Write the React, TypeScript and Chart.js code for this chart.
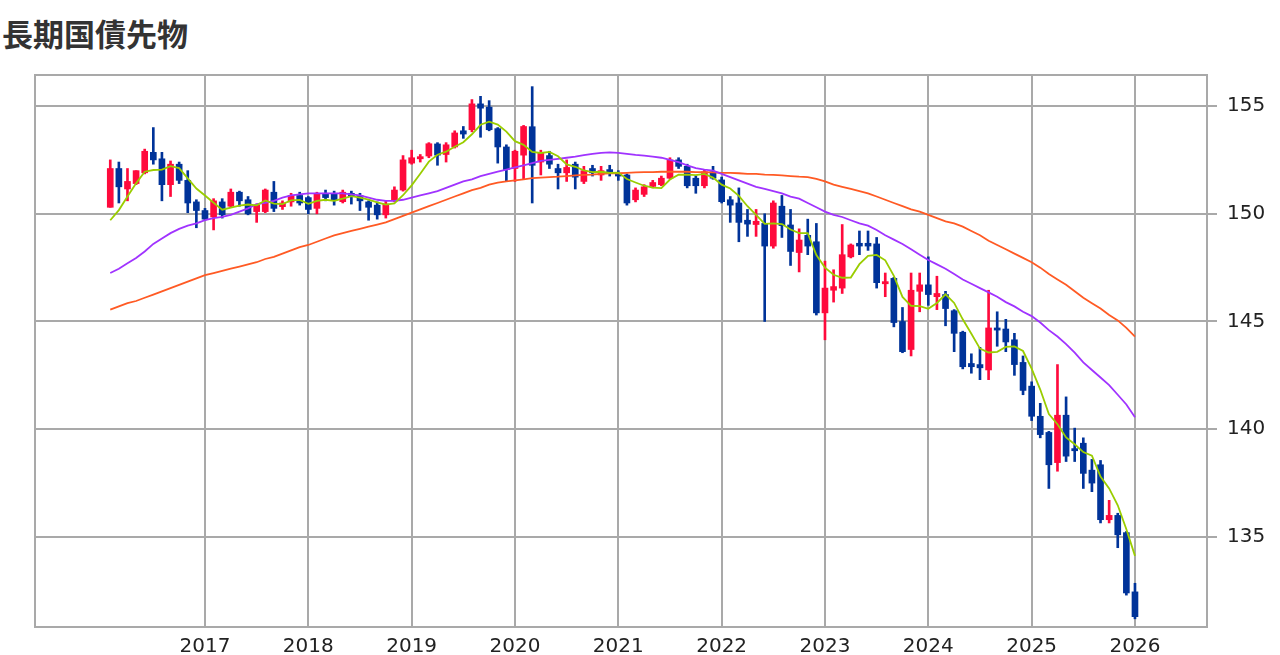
import React, { useEffect, useRef } from "react";
import { Chart, registerables } from "chart.js";

Chart.register(...registerables);

// Monthly candles, first month = Feb 2016, last = Jan 2026
const START_YEAR = 2016;
const START_MONTH = 2;

const opens = [
  150.3, 152.1, 151.15, 151.4, 151.9, 152.85, 152.55, 151.35, 152.3, 151.55, 150.55,
  150.15, 149.85, 150.55, 150.35, 151.0, 150.65, 150.1, 150.1, 151.0, 150.33, 150.55, 150.85,
  150.75, 150.25, 150.95, 150.92, 150.56, 150.95, 150.85, 150.55, 150.4, 149.95, 150.65, 151.1,
  152.35, 152.55, 152.68, 153.24, 152.75, 153.1, 153.85, 153.9, 155.1, 154.95, 153.95, 153.1,
  152.1, 152.72, 154.04, 152.4, 152.7, 152.1, 151.9, 152.3, 151.5, 152.1, 151.8, 152.05,
  151.85, 151.8, 150.65, 150.9, 151.27, 151.35, 151.65, 152.5, 152.2, 151.65, 151.3, 151.95,
  151.57, 150.65, 150.5, 149.7, 149.5, 149.55, 148.5, 150.35, 149.48, 148.2, 149.0, 148.7,
  145.4, 146.45, 146.55, 148.0, 148.63, 148.63, 148.6, 146.75, 147.0, 145.0, 143.7, 146.4,
  146.7, 146.15, 146.25, 145.5, 144.5, 143.05, 143.0, 142.75, 144.7, 144.65, 144.15, 143.1,
  142.0, 140.6, 139.85, 138.45, 140.65, 139.1, 139.35, 138.1, 138.35, 135.8, 136.0, 135.2,
  132.45,
];

const highs = [
  152.5, 152.4, 152.1, 152.0, 153.0, 154.0, 152.85, 152.45, 152.4, 152.0, 150.65,
  150.25, 150.7, 150.7, 151.15, 151.05, 150.8, 150.45, 151.15, 151.5, 150.6, 150.95, 151.0,
  150.8, 151.0, 151.1, 151.05, 151.1, 151.05, 150.95, 150.6, 150.55, 150.6, 151.25, 152.7,
  152.95, 152.75, 153.3, 153.3, 153.3, 153.85, 154.05, 155.3, 155.45, 155.25, 154.0, 153.2,
  152.95, 154.1, 155.9, 152.95, 152.9, 152.3, 152.5, 152.4, 152.2, 152.25, 152.2, 152.25,
  152.0, 151.85, 151.2, 151.35, 151.55, 151.75, 152.6, 152.6, 152.3, 151.75, 152.05, 152.2,
  151.7, 150.8, 151.2, 150.2, 150.2, 150.0, 150.6, 150.85, 150.2, 149.3, 149.75, 149.55,
  147.8, 147.4, 149.5, 148.6, 149.2, 149.2, 148.9, 147.25, 147.05, 145.65, 147.25, 147.25,
  148.0, 147.1, 146.4, 145.55, 144.55, 143.5, 143.8, 146.45, 145.45, 145.1, 144.45, 143.4,
  142.2, 141.2, 139.9, 143.0, 141.5, 140.05, 139.6, 138.6, 138.55, 136.7, 136.1, 135.25,
  132.85,
];

const lows = [
  150.3, 150.5, 150.6, 151.35, 151.85, 152.3, 150.6, 150.8, 151.4, 150.05, 149.35,
  149.7, 149.25, 149.8, 150.3, 150.35, 149.95, 149.6, 150.05, 150.1, 150.2, 150.35, 150.4,
  150.0, 150.0, 150.6, 150.4, 150.5, 150.45, 150.15, 149.7, 149.75, 149.8, 150.55, 151.05,
  152.3, 152.4, 152.6, 152.25, 152.4, 153.05, 153.5, 153.8, 153.55, 153.85, 152.35, 151.5,
  151.5, 151.6, 150.5, 151.8, 152.1, 151.15, 151.5, 151.15, 151.4, 151.75, 151.55, 151.75,
  151.55, 150.4, 150.55, 150.8, 151.2, 151.3, 151.6, 152.1, 151.2, 150.95, 151.2, 151.6,
  150.5, 149.6, 148.7, 148.95, 148.95, 145.0, 148.4, 148.9, 147.6, 147.3, 148.1, 145.3,
  144.15, 145.9, 146.3, 147.95, 148.1, 148.3, 146.55, 146.15, 144.75, 143.55, 143.4, 145.45,
  145.75, 145.55, 144.8, 143.6, 142.8, 142.6, 142.3, 142.3, 143.85, 143.6, 142.5, 141.6,
  140.4, 139.6, 137.25, 138.05, 138.5, 138.5, 137.25, 137.1, 135.65, 135.65, 134.5, 132.3,
  131.2,
];

const closes = [
  152.1, 151.25, 151.5, 152.0, 152.9, 152.5, 151.35, 152.3, 151.55, 150.5, 150.15,
  149.75, 150.6, 149.95, 151.0, 150.6, 150.0, 150.4, 151.1, 150.25, 150.5, 150.85, 150.5,
  150.2, 150.95, 150.75, 150.62, 151.0, 150.8, 150.6, 150.3, 149.95, 150.45, 151.1, 152.5,
  152.6, 152.65, 153.25, 152.72, 153.2, 153.75, 153.7, 155.1, 154.9, 153.9, 153.1, 152.05,
  152.9, 154.05, 152.25, 152.85, 152.3, 151.9, 152.15, 151.7, 152.0, 151.9, 152.0, 151.9,
  151.75, 150.5, 151.1, 151.25, 151.45, 151.65, 152.5, 152.2, 151.3, 151.3, 151.95, 151.65,
  150.56, 150.4, 149.6, 149.52, 149.65, 148.5, 150.5, 149.45, 148.25, 148.78, 148.5, 145.4,
  146.55, 146.62, 148.1, 148.55, 148.5, 148.5, 146.8, 146.85, 144.95, 143.6, 146.45, 146.7,
  146.25, 146.3, 145.6, 144.45, 142.9, 142.9, 142.85, 144.7, 144.6, 144.05, 143.0, 141.8,
  140.6, 139.75, 138.35, 140.65, 138.75, 139.0, 137.95, 137.5, 135.8, 136.0, 135.1, 132.4,
  131.3,
];

// short moving average (yellow-green)
const maShort = [
  149.7, 150.17, 150.8, 151.41, 151.95, 152.03, 152.05, 152.21, 152.12, 151.64, 151.17,
  150.85, 150.51, 150.19, 150.29, 150.38, 150.43, 150.39, 150.62, 150.47, 150.45, 150.62, 150.64,
  150.46, 150.6, 150.65, 150.6, 150.7, 150.82, 150.75, 150.66, 150.53, 150.42, 150.48, 150.86,
  151.32, 151.86, 152.42, 152.74, 152.88, 153.11, 153.32, 153.69, 154.13, 154.27, 154.14, 153.81,
  153.37, 153.2, 152.87, 152.82, 152.87, 152.67, 152.29, 152.18, 152.01, 151.93, 151.95, 151.9,
  151.91, 151.61, 151.45, 151.3, 151.21, 151.19, 151.59, 151.81, 151.82, 151.79, 151.85, 151.68,
  151.35, 151.17, 150.83, 150.35, 149.95, 149.53, 149.55, 149.52, 149.27, 149.1, 149.1, 148.08,
  147.5, 147.17, 147.03, 147.04, 147.66, 148.05, 148.09, 147.84, 147.12, 146.14, 145.73, 145.71,
  145.59, 145.86, 146.26, 145.86, 145.1, 144.43, 143.74, 143.56, 143.59, 143.82, 143.84, 143.63,
  142.81, 141.84, 140.7, 140.23, 139.62, 139.3, 138.94, 138.77, 137.8, 137.25, 136.47, 135.36,
  134.12,
];

// medium moving average (purple)
const maMid = [
  147.25, 147.45, 147.7, 147.95, 148.25, 148.6, 148.85, 149.1, 149.3, 149.45, 149.55,
  149.7, 149.8, 149.85, 149.95, 150.1, 150.25, 150.45, 150.5, 150.6, 150.75, 150.85, 150.9,
  150.95, 150.95, 150.95, 150.95, 150.95, 150.9, 150.85, 150.75, 150.65, 150.6, 150.6, 150.65,
  150.75, 150.85, 150.95, 151.05, 151.2, 151.35, 151.5, 151.6, 151.75, 151.85, 151.95, 152.05,
  152.15, 152.25, 152.35, 152.45, 152.5, 152.55, 152.6, 152.65, 152.72, 152.78, 152.83, 152.85,
  152.83, 152.78, 152.73, 152.7, 152.65, 152.6, 152.5, 152.4, 152.25, 152.12, 152.05, 152.0,
  151.85, 151.7, 151.55, 151.4, 151.25, 151.15, 151.05, 150.95, 150.8, 150.7, 150.5, 150.3,
  150.1, 149.95, 149.85, 149.7, 149.55, 149.45, 149.25, 149.0, 148.8, 148.6, 148.35, 148.1,
  147.85, 147.65, 147.45, 147.2, 146.95, 146.75, 146.55, 146.35, 146.15, 145.9, 145.7, 145.45,
  145.25, 144.95, 144.6, 144.3, 143.95, 143.55, 143.1, 142.75, 142.4, 142.05, 141.6, 141.15,
  140.55,
];

// long moving average (orange)
const maLong = [
  145.55, 145.7, 145.85, 145.95, 146.1, 146.25, 146.4, 146.55, 146.7, 146.85, 147.0,
  147.15, 147.25, 147.35, 147.45, 147.55, 147.65, 147.75, 147.9, 148.0, 148.15, 148.3, 148.45,
  148.55, 148.7, 148.85, 149.0, 149.1, 149.2, 149.3, 149.4, 149.5, 149.6, 149.75, 149.9,
  150.05, 150.2, 150.35, 150.5, 150.65, 150.8, 150.95, 151.1, 151.2, 151.35, 151.45, 151.5,
  151.55, 151.6, 151.65, 151.68, 151.7, 151.72, 151.75, 151.78, 151.8, 151.82, 151.85, 151.87,
  151.88, 151.9, 151.92, 151.93, 151.93, 151.95, 151.95, 151.95, 151.95, 151.93, 151.93, 151.92,
  151.9, 151.9, 151.88, 151.85, 151.85, 151.82, 151.8, 151.78, 151.75, 151.72, 151.7, 151.62,
  151.5, 151.35, 151.25, 151.15, 151.05, 150.95, 150.8, 150.65, 150.5, 150.35, 150.2, 150.1,
  149.95, 149.8, 149.65, 149.55, 149.4, 149.2, 149.0, 148.75, 148.55, 148.35, 148.15, 147.95,
  147.75, 147.5, 147.2, 146.95, 146.7, 146.4, 146.1, 145.85, 145.6, 145.3, 145.05, 144.7,
  144.3,
];

const yearTicks = [2017, 2018, 2019, 2020, 2021, 2022, 2023, 2024, 2025, 2026];
const priceTicks = [135, 140, 145, 150, 155];
const X_MIN = 2015.355;
const X_MAX = 2026.697;
const Y_MIN = 130.82;
const Y_MAX = 156.44;

const UP = "#ff0a3c";
const DOWN = "#003399";
const GRID = "#a9a9a9";

const monthX = (i: number) => START_YEAR + (START_MONTH - 1 + i) / 12;

const framePlugin = {
  id: "frame",
  afterDraw(chart: any) {
    const { ctx, chartArea: a } = chart;
    ctx.save();
    ctx.strokeStyle = GRID;
    ctx.lineWidth = 2;
    ctx.strokeRect(a.left, a.top, a.right - a.left, a.bottom - a.top);
    ctx.restore();
  },
};

export default function App() {
  const ref = useRef<HTMLCanvasElement | null>(null);

  useEffect(() => {
    if (!ref.current) return;
    const colors = closes.map((c, i) => (c >= opens[i] ? UP : DOWN));
    const wickData = lows.map((l, i) => ({ x: monthX(i), y: [l, highs[i]] }));
    const bodyData = opens.map((o, i) => ({ x: monthX(i), y: [o, closes[i]] }));
    const line = (arr: number[]) => arr.map((v, i) => ({ x: monthX(i), y: v }));

    const chart = new Chart(ref.current, {
      type: "bar",
      data: {
        datasets: [
          {
            type: "line",
            data: line(maShort),
            borderColor: "#9acd00",
            borderWidth: 1.8,
            pointRadius: 0,
            tension: 0,
            order: 0,
          } as any,
          {
            type: "line",
            data: line(maMid),
            borderColor: "#a033ff",
            borderWidth: 1.8,
            pointRadius: 0,
            tension: 0,
            order: 0,
          } as any,
          {
            type: "line",
            data: line(maLong),
            borderColor: "#ff5a24",
            borderWidth: 1.8,
            pointRadius: 0,
            tension: 0,
            order: 0,
          } as any,
          {
            type: "bar",
            data: bodyData,
            backgroundColor: colors,
            borderWidth: 0,
            barThickness: 6,
            minBarLength: 1,
            grouped: false,
            borderSkipped: false,
            order: 1,
          } as any,
          {
            type: "bar",
            data: wickData,
            backgroundColor: colors,
            borderWidth: 0,
            barThickness: 2,
            grouped: false,
            borderSkipped: false,
            order: 2,
          } as any,
        ],
      },
      options: {
        animation: false,
        responsive: false,
        devicePixelRatio: 1,
        events: [],
        layout: { padding: { left: 35, top: 75, right: 0, bottom: 0 } },
        plugins: {
          legend: { display: false },
          tooltip: { enabled: false },
          title: { display: false },
        },
        scales: {
          x: {
            type: "linear",
            position: "bottom",
            min: X_MIN,
            max: X_MAX,
            offset: false,
            afterBuildTicks: (scale: any) => {
              scale.ticks = yearTicks.map((v) => ({ value: v }));
            },
            afterFit: (scale: any) => {
              scale.height = 28;
            },
            ticks: {
              autoSkip: false,
              maxRotation: 0,
              padding: 8,
              color: "#222",
              font: { family: "DejaVu Sans", size: 20 },
              callback: (v: any) => String(v),
            },
            grid: {
              color: GRID,
              lineWidth: 2,
              drawTicks: false,
              offset: false,
            },
            border: { display: false },
          } as any,
          y: {
            type: "linear",
            position: "right",
            min: Y_MIN,
            max: Y_MAX,
            afterBuildTicks: (scale: any) => {
              scale.ticks = priceTicks.map((v) => ({ value: v }));
            },
            afterFit: (scale: any) => {
              scale.width = 73;
            },
            ticks: {
              padding: 10,
              color: "#222",
              font: { family: "DejaVu Sans", size: 20 },
              callback: (v: any) => String(v),
            },
            grid: {
              color: GRID,
              lineWidth: 2,
              drawTicks: true,
              tickLength: 10,
            },
            border: { display: false },
          } as any,
        },
      },
      plugins: [framePlugin],
    });
    return () => chart.destroy();
  }, []);

  return (
    <div
      style={{
        position: "absolute",
        left: 0,
        top: 0,
        width: 1280,
        height: 655,
        background: "#fff",
        overflow: "hidden",
      }}
    >
      <div
        style={{
          position: "absolute",
          left: 2,
          top: 17,
          fontFamily: '"Noto Sans CJK JP", "Noto Sans", sans-serif',
          fontWeight: 700,
          fontSize: 31,
          lineHeight: "31px",
          color: "#333",
          whiteSpace: "nowrap",
        }}
      >
        長期国債先物
      </div>
      <canvas
        ref={ref}
        width={1280}
        height={655}
        style={{ position: "absolute", left: 0, top: 0, width: 1280, height: 655 }}
      />
    </div>
  );
}
